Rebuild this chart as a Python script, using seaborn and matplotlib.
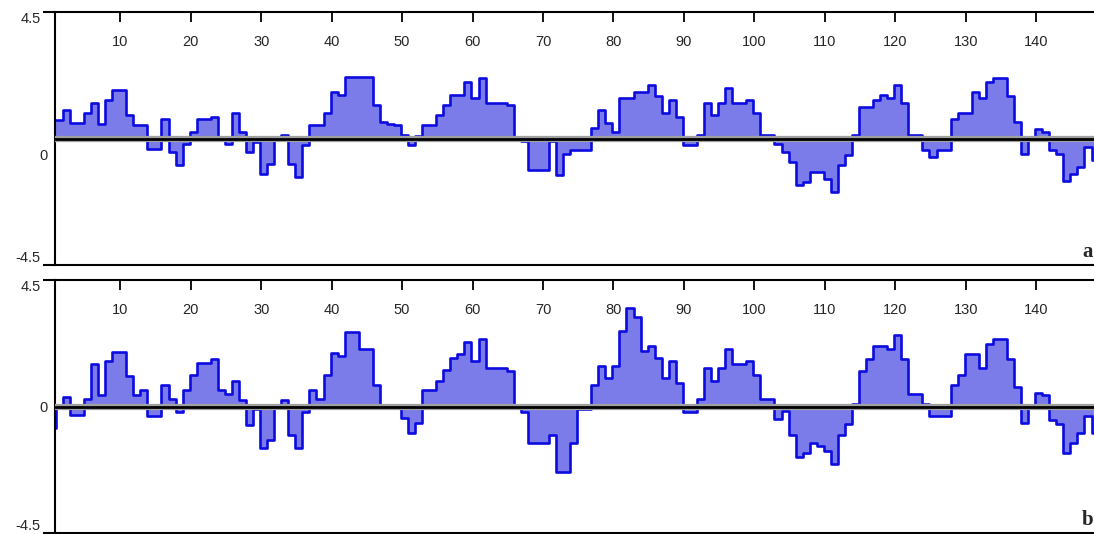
import numpy as np
import matplotlib
matplotlib.use('Agg')
import matplotlib.pyplot as plt
import matplotlib.transforms as mtransforms
import seaborn as sns

# step values, one value per unit
series_a = [0.65, 1.0, 0.55, 0.55, 0.9, 1.25, 0.5, 1.37, 1.73, 1.73,
            0.83, 0.48, 0.48, -0.36, -0.36, 0.7, -0.48, -0.95, -0.18, 0.24,
            0.7, 0.7, 0.77, -0.06, -0.18, 0.9, 0.24, -0.48, -0.12, -1.25,
            -0.9, 0.0, 0.12, -0.9, -1.37, -0.24, 0.48, 0.48, 0.9, 1.67,
            1.55, 2.2, 2.2, 2.2, 2.2, 1.2, 0.6, 0.5, 0.48, 0.12,
            -0.24, 0.1, 0.48, 0.48, 0.83, 1.2, 1.55, 1.55, 2.0, 1.43,
            2.15, 1.25, 1.25, 1.25, 1.2, -0.05, -0.1, -1.13, -1.13, -1.13,
            -0.1, -1.3, -0.55, -0.42, -0.42, -0.42, 0.36, 1.0, 0.55, 0.24,
            1.43, 1.43, 1.67, 1.67, 1.9, 1.5, 0.9, 1.37, 0.77, -0.24,
            -0.24, 0.12, 1.25, 0.83, 1.25, 1.8, 1.25, 1.25, 1.37, 0.9,
            0.14, 0.14, -0.18, -0.48, -0.83, -1.67, -1.55, -1.2, -1.2, -1.45,
            -1.9, -0.95, -0.6, 0.12, 1.13, 1.13, 1.37, 1.55, 1.45, 1.9,
            1.25, 0.12, 0.12, -0.4, -0.65, -0.42, -0.42, 0.7, 0.9, 0.9,
            1.67, 1.43, 2.0, 2.15, 2.15, 1.5, 0.6, -0.55, 0.0, 0.35,
            0.24, -0.42, -0.55, -1.5, -1.25, -1.0, -0.3, -0.75]
first_a = 1

series_b = [-0.75, -0.05, 0.34, -0.3, -0.3, 0.25, 1.5, 0.4, 1.62, 1.95,
            1.95, 1.07, 0.4, 0.6, -0.33, -0.33, 0.77, 0.28, -0.2, 0.58,
            1.13, 1.55, 1.55, 1.68, 0.58, 0.46, 0.89, 0.22, -0.66, -0.08,
            -1.48, -1.18, 0.0, 0.22, -1.0, -1.48, -0.2, 0.58, 0.28, 1.13,
            1.92, 1.8, 2.65, 2.65, 2.04, 2.04, 0.77, 0.0, 0.0, 0.0,
            -0.4, -0.94, -0.57, 0.58, 0.58, 0.89, 1.31, 1.74, 1.86, 2.28,
            1.62, 2.4, 1.37, 1.37, 1.37, 1.25, 0.04, -0.2, -1.3, -1.3,
            -1.3, -1.0, -2.33, -2.33, -1.3, -0.08, -0.08, 0.77, 1.43, 1.0,
            1.43, 2.7, 3.5, 3.2, 1.98, 2.16, 1.74, 1.0, 1.62, 0.83,
            -0.2, -0.2, 0.28, 1.37, 0.89, 1.37, 2.04, 1.5, 1.5, 1.62,
            1.13, 0.28, 0.28, -0.45, -0.15, -1.0, -1.8, -1.67, -1.3, -1.42,
            -1.6, -2.03, -1.0, -0.63, 0.1, 1.25, 1.68, 2.16, 2.16, 2.04,
            2.53, 1.68, 0.46, 0.46, 0.1, -0.33, -0.33, -0.33, 0.77, 1.13,
            1.86, 1.86, 1.37, 2.22, 2.4, 2.4, 1.68, 0.7, -0.57, 0.0,
            0.49, 0.4, -0.48, -0.63, -1.67, -1.3, -0.94, -0.33, -0.94]
first_b = 0

xticks = list(range(10, 150, 10))
yticks = [-4.5, 0, 4.5]
ytick_labels = ['-4.5', '0', '4.5']
panel_labels = ['a', 'b']

sns.set_style('white')
plt.rcParams['font.family'] = ['Liberation Sans', 'DejaVu Sans']

W, H = 1094, 534
fig = plt.figure(figsize=(W / 100, H / 100), dpi=100)
ax_a = fig.add_axes([55 / W, 1 - 265 / H, 1 - 55 / W, 253 / H])
ax_b = fig.add_axes([55 / W, 1 - 533 / H, 1 - 55 / W, 253 / H])


def draw_panel(ax, vals, first, letter, zero_dy):
    vals = np.asarray(vals, dtype=float)
    edges = np.arange(first, first + len(vals) + 1) - 0.15
    yy = np.append(vals, vals[-1])
    ax.fill_between(edges, yy, 0, step='post', color='#7b7bea', lw=0, zorder=1)
    sns.lineplot(x=edges, y=yy, drawstyle='steps-post', color='#0c0ce0',
                 lw=1.9, ax=ax, zorder=2)
    ax.axhline(0, color='#a0a0a0', lw=4.5, zorder=3)
    ax.axhline(0, color='black', lw=2.0, zorder=4)

    ax.set_xlim(0.74, 148.2)
    ax.set_ylim(-4.5, 4.5)
    ax.set_xlabel('')
    ax.set_ylabel('')

    ax.set_xticks(xticks)
    ax.xaxis.set_ticks_position('top')
    ax.tick_params(axis='x', direction='in', length=7, width=1.3, color='black',
                   pad=-27, labelsize=10.5, top=True, bottom=False,
                   labeltop=True, labelbottom=False)
    ax.set_yticks(yticks)
    ax.set_yticklabels(ytick_labels)
    ax.tick_params(axis='y', direction='out', length=9, width=1.5, color='black',
                   pad=1.5, labelsize=10.5, left=True)

    for side in ['top', 'left', 'bottom']:
        ax.spines[side].set_color('black')
        ax.spines[side].set_linewidth(1.5)
    ax.spines['right'].set_visible(False)

    ticks = ax.yaxis.get_major_ticks()
    ticks[1].tick1line.set_visible(False)
    labels = ax.get_yticklabels()
    labels[0].set_va('bottom')
    labels[2].set_va('top')
    shift = mtransforms.ScaledTranslation(7 / 100, -zero_dy / 100, fig.dpi_scale_trans)
    labels[1].set_transform(labels[1].get_transform() + shift)

    ax.text(0.9885, 0.012, letter, transform=ax.transAxes, ha='left', va='bottom',
            fontsize=15, fontweight='bold', family='Liberation Serif')


draw_panel(ax_a, series_a, first_a, panel_labels[0], 16)
draw_panel(ax_b, series_b, first_b, panel_labels[1], 0)

fig.savefig('out.png', dpi=100)
